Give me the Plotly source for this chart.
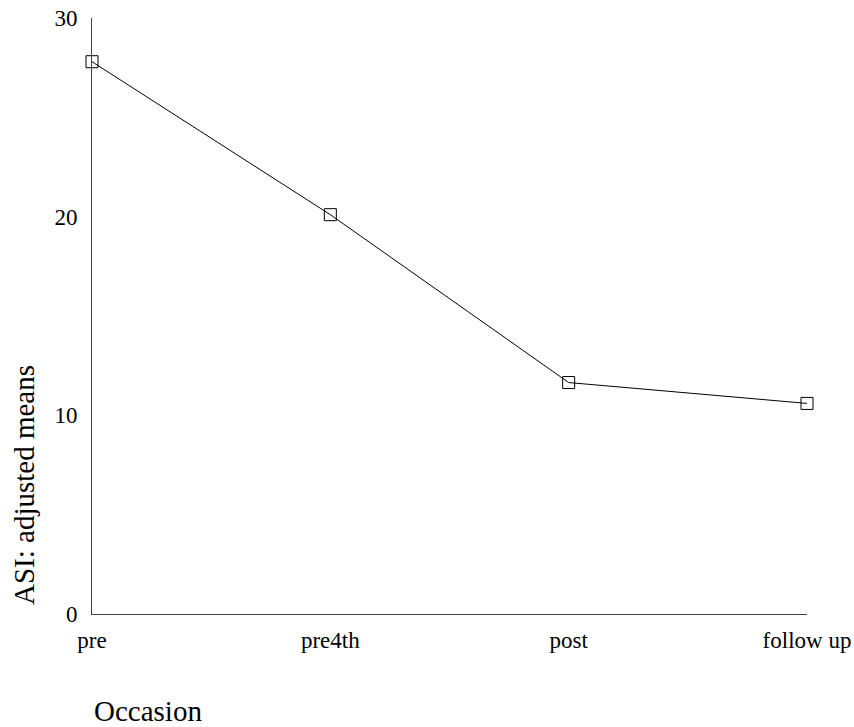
import plotly.graph_objects as go

occasions = ["pre", "pre4th", "post", "follow up"]
adjusted_means = [27.8, 20.1, 11.65, 10.6]
y_ticks = [0, 10, 20, 30]
x_title = "Occasion"
y_title = "ASI: adjusted means"

FONT = "Liberation Serif, Times New Roman, serif"

fig = go.Figure()
fig.add_trace(go.Scatter(
    x=list(range(len(occasions))),
    y=adjusted_means,
    mode="lines+markers",
    line=dict(color="black", width=1),
    marker=dict(symbol="square-open", size=12, color="black", line=dict(width=1)),
    cliponaxis=False,
    showlegend=False,
))

L, R, T, B = 92, 47, 18, 113
W, H = 854, 727
pw, ph = W - L - R, H - T - B

fig.update_layout(
    width=W, height=H,
    margin=dict(l=L, r=R, t=T, b=B, pad=0, autoexpand=False),
    paper_bgcolor="white", plot_bgcolor="white",
    font=dict(family=FONT, color="black", size=23),
    xaxis=dict(
        range=[0, len(occasions) - 1],
        tickvals=list(range(len(occasions))),
        ticktext=occasions,
        showgrid=False, zeroline=False,
        showline=True, linecolor="#444", linewidth=1,
        ticks="", ticklabelstandoff=5,
        tickfont=dict(family=FONT, size=23, color="black"),
    ),
    yaxis=dict(
        range=[0, 30],
        tickvals=y_ticks,
        ticktext=[str(v) for v in y_ticks],
        showgrid=False, zeroline=False,
        showline=True, linecolor="#444", linewidth=1,
        ticks="", ticklabelstandoff=9,
        tickfont=dict(family=FONT, size=23, color="black"),
    ),
    annotations=[
        dict(text=x_title, xref="paper", yref="paper",
             x=0, y=-(711 - (H - B)) / ph, xanchor="left", yanchor="middle",
             showarrow=False, font=dict(family=FONT, size=29, color="black")),
        dict(text=y_title, xref="paper", yref="paper", textangle=-90,
             x=-(L - 24) / pw, y=((H - B) - 607) / ph, xanchor="center", yanchor="bottom",
             showarrow=False, font=dict(family=FONT, size=29, color="black")),
    ],
)

fig.write_html(
    "out.html",
    config={"displayModeBar": False},
    post_script="document.body.style.margin='0';document.body.style.overflow='hidden';",
)
